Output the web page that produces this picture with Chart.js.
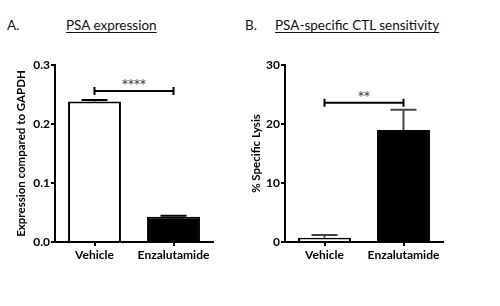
<!DOCTYPE html>
<html><head><meta charset="utf-8">
<script src="https://cdn.jsdelivr.net/npm/chart.js@4"></script>
<style>
body{margin:0;background:#fff;width:500px;height:306px;position:relative;overflow:hidden;font-family:Lato,sans-serif;}
.hdr{position:absolute;font-size:13.5px;color:#111;line-height:13px;white-space:nowrap;}
.u{text-decoration:underline;text-underline-offset:2px;}
canvas{position:absolute;top:0;}
</style></head><body>
<div class="hdr" style="left:7px;top:19px">A.</div>
<div class="hdr u" style="left:66px;top:19px">PSA expression</div>
<div class="hdr" style="left:245px;top:19px">B.</div>
<div class="hdr u" style="left:275px;top:19px">PSA-specific CTL sensitivity</div>
<canvas id="cA" width="250" height="306" style="left:0px"></canvas>
<canvas id="cB" width="260" height="306" style="left:240px"></canvas>
<script>
const categories = ['Vehicle', 'Enzalutamide'];
const psaExpression = [0.238, 0.043];
const psaExpressionErr = [0.0025, 0.0017];
const psaTicks = [0, 0.1, 0.2, 0.3];
const psaSigLevel = 0.256;
const psaSigLabel = '****';

const specificLysis = [0.7, 19.0];
const specificLysisErr = [0.5, 3.4];
const lysisTicks = [0, 10, 20, 30];
const lysisSigLevel = 23.6;
const lysisSigLabel = '**';

const overlay = {
  id: 'overlay',
  afterDatasetsDraw(chart, args, o) {
    const ctx = chart.ctx, x = chart.scales.x, y = chart.scales.y;
    ctx.save();
    ctx.lineCap = 'butt';
    o.values.forEach((v, i) => {
      const cx = x.getPixelForValue(i);
      const base = y.getPixelForValue(v);
      const top = y.getPixelForValue(v + o.errors[i]);
      ctx.strokeStyle = o.errColor;
      ctx.lineWidth = 2;
      ctx.beginPath();
      ctx.moveTo(cx, base); ctx.lineTo(cx, top);
      ctx.moveTo(cx - o.cap, top); ctx.lineTo(cx + o.cap, top);
      ctx.stroke();
    });
    const x0 = x.getPixelForValue(0), x1 = x.getPixelForValue(1);
    const yb = y.getPixelForValue(o.sigLevel);
    ctx.strokeStyle = '#000';
    ctx.lineWidth = 2;
    ctx.beginPath();
    ctx.moveTo(x0, yb); ctx.lineTo(x1, yb);
    ctx.moveTo(x0, yb - 4); ctx.lineTo(x0, yb + 4);
    ctx.moveTo(x1, yb - 4); ctx.lineTo(x1, yb + 4);
    ctx.stroke();
    ctx.fillStyle = '#333';
    ctx.font = '12px "DejaVu Sans"';
    ctx.textAlign = 'center';
    ctx.textBaseline = 'alphabetic';
    ctx.fillText(o.sigLabel, (x0 + x1) / 2, yb - 3);
    ctx.restore();
  }
};

function makeChart(id, values, errors, ticks, sigLevel, sigLabel, yTitle, yWidth, titlePad, rightPad, fmt, errColor) {
  return new Chart(document.getElementById(id), {
    type: 'bar',
    data: {
      labels: categories,
      datasets: [{
        data: values,
        backgroundColor: ['#ffffff', '#000000'],
        borderColor: '#000',
        borderWidth: 2,
        borderSkipped: 'start',
        categoryPercentage: 1,
        barPercentage: 0.67
      }]
    },
    options: {
      responsive: false,
      animation: false,
      events: [],
      layout: { padding: { left: 0, top: 65, right: rightPad, bottom: 0 } },
      plugins: {
        legend: { display: false },
        tooltip: { enabled: false },
        overlay: { values, errors, sigLevel, sigLabel, cap: 13, errColor }
      },
      scales: {
        x: {
          type: 'category',
          offset: true,
          grid: { display: true, offset: false, drawOnChartArea: false, drawTicks: true, tickLength: 4, color: '#000', lineWidth: 2 },
          border: { display: true, color: '#000', width: 2 },
          ticks: { color: '#000', font: { family: 'Lato', size: 12, weight: 'bold' }, padding: 2 },
          afterFit(s) { s.height = 64; }
        },
        y: {
          min: ticks[0],
          max: ticks[ticks.length - 1],
          afterBuildTicks(s) { s.ticks = ticks.map(v => ({ value: v })); },
          grid: { display: true, drawOnChartArea: false, drawTicks: true, tickLength: 4, color: '#000', lineWidth: 2 },
          border: { display: true, color: '#000', width: 2 },
          ticks: { color: '#000', font: { family: 'Lato', size: 12, weight: 'bold' }, padding: 1, callback: fmt },
          title: { display: true, text: yTitle, color: '#000', font: { family: 'Lato', size: 11.5, weight: 'bold' }, padding: { top: titlePad, bottom: 0 } },
          afterFit(s) { s.width = yWidth; }
        }
      }
    },
    plugins: [overlay]
  });
}

makeChart('cA', psaExpression, psaExpressionErr, psaTicks, psaSigLevel, psaSigLabel,
  'Expression compared to GAPDH', 55, 14, 37, v => Number(v).toFixed(1), '#000');
makeChart('cB', specificLysis, specificLysisErr, lysisTicks, lysisSigLevel, lysisSigLabel,
  '% Specific Lysis', 45, 9, 57, v => String(v), '#444');
</script>
</body></html>
